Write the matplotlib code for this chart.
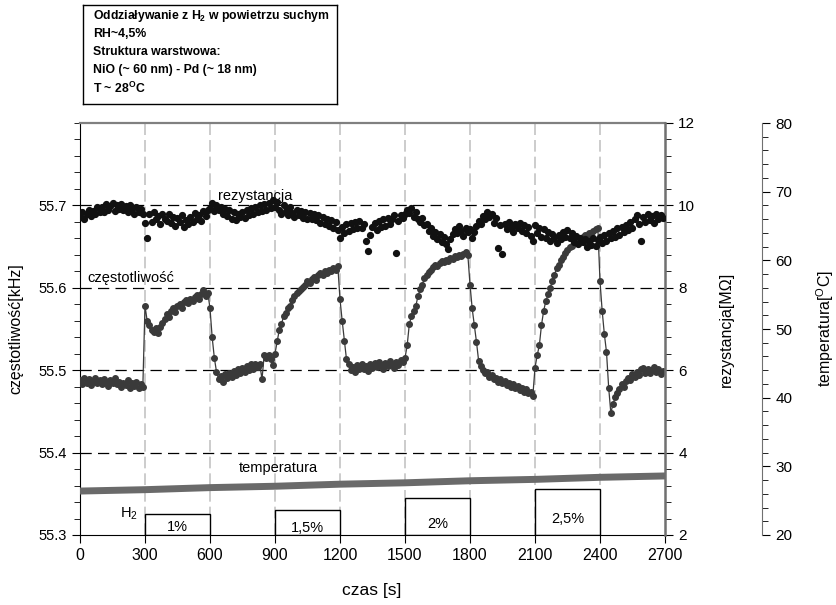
import numpy as np
import matplotlib
matplotlib.use('Agg')
import matplotlib.pyplot as plt
from matplotlib.ticker import MultipleLocator, FixedLocator, FormatStrFormatter

plt.rcParams['font.family'] = ['Liberation Sans', 'DejaVu Sans']
plt.rcParams['mathtext.fontset'] = 'custom'
plt.rcParams['mathtext.rm'] = 'Liberation Sans'
plt.rcParams['mathtext.bf'] = 'Liberation Sans:bold'

# czas probkowania co 10 s
czas = np.arange(0, 2700, 10)

# czestotliwosc [kHz] (segmenty po 300 s)
czestotliwosc = [
    55.488, 55.483, 55.490, 55.485, 55.489, 55.482, 55.487, 55.491, 55.484, 55.488,
    55.483, 55.489, 55.486, 55.481, 55.488, 55.484, 55.490, 55.483, 55.486, 55.480,
    55.485, 55.482, 55.488, 55.479, 55.484, 55.481, 55.486, 55.478, 55.483, 55.480,
    55.578, 55.560, 55.555, 55.549, 55.546, 55.551, 55.545, 55.553, 55.557, 55.562,
    55.568, 55.565, 55.572, 55.575, 55.571, 55.578, 55.580, 55.576, 55.583, 55.585,
    55.581, 55.587, 55.584, 55.589, 55.591, 55.586, 55.592, 55.597, 55.590, 55.594,
    55.575, 55.540, 55.515, 55.498, 55.489, 55.493, 55.486, 55.495, 55.490, 55.497,
    55.492, 55.499, 55.494, 55.501, 55.496, 55.503, 55.498, 55.505, 55.500, 55.507,
    55.502, 55.508, 55.504, 55.507, 55.489, 55.518, 55.515, 55.519, 55.514, 55.506,
    55.520, 55.535, 55.549, 55.556, 55.566, 55.570, 55.575, 55.578, 55.585, 55.590,
    55.594, 55.596, 55.599, 55.601, 55.604, 55.608, 55.606, 55.611, 55.613, 55.610,
    55.616, 55.618, 55.615, 55.620, 55.618, 55.622, 55.620, 55.624, 55.621, 55.626,
    55.586, 55.560, 55.536, 55.513, 55.507, 55.500, 55.504, 55.498, 55.506, 55.501,
    55.508, 55.502, 55.505, 55.499, 55.507, 55.503, 55.509, 55.504, 55.510, 55.506,
    55.502, 55.509, 55.505, 55.511, 55.507, 55.503, 55.510, 55.506, 55.512, 55.510,
    55.515, 55.530, 55.556, 55.566, 55.572, 55.578, 55.590, 55.598, 55.604, 55.612,
    55.616, 55.619, 55.622, 55.625, 55.628, 55.627, 55.630, 55.632, 55.631, 55.634,
    55.633, 55.636, 55.635, 55.638, 55.637, 55.640, 55.638, 55.641, 55.643, 55.640,
    55.604, 55.575, 55.555, 55.534, 55.511, 55.505, 55.500, 55.496, 55.498, 55.492,
    55.494, 55.489, 55.491, 55.486, 55.489, 55.484, 55.487, 55.482, 55.485, 55.480,
    55.483, 55.478, 55.481, 55.476, 55.479, 55.474, 55.477, 55.472, 55.474, 55.469,
    55.503, 55.518, 55.530, 55.555, 55.572, 55.584, 55.592, 55.600, 55.608, 55.616,
    55.624, 55.628, 55.634, 55.637, 55.642, 55.646, 55.650, 55.651, 55.655, 55.654,
    55.658, 55.660, 55.662, 55.664, 55.663, 55.667, 55.666, 55.669, 55.671, 55.673,
    55.608, 55.572, 55.544, 55.522, 55.479, 55.448, 55.459, 55.467, 55.472, 55.477,
    55.483, 55.480, 55.487, 55.490, 55.488, 55.495, 55.492, 55.498, 55.494, 55.501,
    55.503, 55.497, 55.502, 55.496, 55.500, 55.504, 55.498, 55.501, 55.495, 55.499,
]

# rezystancja [MOhm]
rezystancja = [
    9.72, 9.84, 9.66, 9.78, 9.90, 9.74, 9.86, 9.80, 9.95, 9.83,
    9.97, 9.85, 10.03, 9.88, 9.98, 10.05, 9.86, 10.00, 9.92, 10.04,
    9.88, 9.99, 9.84, 10.02, 9.93, 9.80, 9.96, 9.85, 9.92, 9.78,
    9.57, 9.21, 9.78, 9.60, 9.84, 9.66, 9.74, 9.55, 9.80, 9.68,
    9.62, 9.79, 9.58, 9.72, 9.50, 9.70, 9.59, 9.76, 9.48, 9.64,
    9.55, 9.73, 9.60, 9.82, 9.67, 9.77, 9.62, 9.86, 9.74, 9.90,
    9.94, 10.06, 9.86, 10.00, 9.90, 9.97, 9.78, 9.92, 9.74, 9.88,
    9.68, 9.84, 9.64, 9.80, 9.71, 9.85, 9.70, 9.90, 9.77, 9.93,
    9.80, 9.96, 9.84, 10.00, 9.86, 10.03, 9.88, 10.05, 9.93, 10.14,
    9.95, 10.08, 9.88, 9.80, 10.02, 9.86, 9.76, 9.96, 9.82, 9.72,
    9.90, 9.76, 9.86, 9.70, 9.84, 9.68, 9.81, 9.66, 9.78, 9.64,
    9.77, 9.58, 9.72, 9.55, 9.68, 9.50, 9.65, 9.46, 9.60, 9.40,
    9.21, 9.48, 9.33, 9.54, 9.38, 9.58, 9.42, 9.60, 9.45, 9.62,
    9.44, 9.56, 9.13, 8.89, 9.28, 9.47, 9.58, 9.40, 9.63, 9.48,
    9.66, 9.50, 9.70, 9.54, 9.68, 9.76, 8.85, 9.62, 9.76, 9.70,
    9.78, 9.90, 9.82, 9.94, 9.72, 9.84, 9.66, 9.60, 9.70, 9.52,
    9.56, 9.38, 9.44, 9.26, 9.36, 9.18, 9.30, 9.12, 9.24, 9.06,
    8.93, 9.18, 9.30, 9.42, 9.34, 9.50, 9.38, 9.26, 9.46, 9.36,
    9.42, 9.22, 9.36, 9.50, 9.62, 9.56, 9.74, 9.66, 9.84, 9.72,
    9.80, 9.58, 9.70, 8.97, 9.52, 8.81, 9.56, 9.42, 9.60, 9.46,
    9.36, 9.54, 9.44, 9.58, 9.38, 9.52, 9.34, 9.48, 9.26, 9.13,
    9.52, 9.32, 9.46, 9.24, 9.42, 9.20, 9.36, 9.14, 9.30, 9.22,
    9.08, 9.28, 9.18, 9.36, 9.24, 9.40, 9.20, 9.32, 9.12, 9.26,
    9.06, 9.22, 9.10, 9.18, 8.98, 9.14, 9.04, 9.20, 9.02, 9.16,
    9.24, 9.08, 9.28, 9.14, 9.34, 9.20, 9.38, 9.24, 9.44, 9.28,
    9.48, 9.36, 9.52, 9.40, 9.60, 9.46, 9.66, 9.76, 9.56, 9.13,
    9.72, 9.60, 9.78, 9.64, 9.74, 9.58, 9.80, 9.66, 9.76, 9.70,
]

# temperatura [C]
temp_czas = [0, 300, 600, 900, 1200, 1500, 1800, 2100, 2400, 2700]
temperatura = [26.4, 26.6, 26.9, 27.1, 27.4, 27.6, 27.9, 28.1, 28.4, 28.6]

# impulsy H2
h2_start = [300, 900, 1500, 2100]
h2_koniec = [600, 1200, 1800, 2400]
h2_gora = [55.325, 55.330, 55.345, 55.356]
h2_etykiety = ['1%', '1,5%', '2%', '2,5%']
h2_etykiety_y = [55.310, 55.309, 55.313, 55.320]

fig = plt.figure(figsize=(8.37, 6.05), dpi=100)
ax = fig.add_axes([80 / 837, 70 / 605, 585 / 837, 412 / 605])
ax.set_xlim(0, 2700)
ax.set_ylim(55.3, 55.8)

for x in range(300, 2700, 300):
    ax.axvline(x, color='#c4c4c4', lw=1.2, dashes=(7, 3), zorder=1)
for y in [55.4, 55.5, 55.6, 55.7]:
    ax.axhline(y, color='black', lw=0.9, dashes=(9, 5), zorder=1)

for x0, x1, top in zip(h2_start, h2_koniec, h2_gora):
    ax.bar(x0, top - 55.3, width=x1 - x0, bottom=55.3, align='edge',
           facecolor='white', edgecolor='black', lw=1.0, zorder=2)
for x0, x1, lab, yl in zip(h2_start, h2_koniec, h2_etykiety, h2_etykiety_y):
    ax.text((x0 + x1) / 2, yl, lab, ha='center', va='center', fontsize=10.5)
ax.text(268, 55.326, r'H$_2$', ha='right', va='center', fontsize=10.5)

ax.plot(czas, czestotliwosc, '-o', color='#3a3a3a', ms=4.0, lw=0.9, zorder=3)

ax.text(35, 55.603, 'częstotliwość', fontsize=10.5, va='bottom')
ax.text(636, 55.703, 'rezystancja', fontsize=10.5, va='bottom')
ax.text(917, 55.381, 'temperatura', fontsize=10.5, ha='center', va='center')

ax.xaxis.set_major_locator(MultipleLocator(300))
ax.yaxis.set_major_locator(FixedLocator([55.3, 55.4, 55.5, 55.6, 55.7]))
ax.yaxis.set_minor_locator(MultipleLocator(0.02))
ax.yaxis.set_major_formatter(FormatStrFormatter('%.1f'))
ax.tick_params(axis='y', which='major', direction='out', length=6, labelsize=10.5)
ax.tick_params(axis='x', which='major', direction='out', length=6, labelsize=11.5)
ax.tick_params(axis='y', which='minor', direction='out', length=4)
ax.spines['top'].set_color('#808080')
ax.spines['top'].set_linewidth(1.6)
ax.spines['right'].set_visible(False)
ax.set_xlabel('czas [s]', fontsize=12.5)
ax.xaxis.set_label_coords(0.499, -0.1335)
ax.xaxis.label.set_va('center')
ax.set_ylabel('częstotliwość[kHz]', fontsize=11.5)
ax.yaxis.set_label_coords(-0.109, 0.5)
ax.yaxis.label.set_va('center')

ax2 = ax.twinx()
ax2.set_ylim(2, 12)
ax2.plot(czas, rezystancja, 'o', color='#111111', ms=4.2, zorder=4)
ax2.yaxis.set_major_locator(MultipleLocator(2))
ax2.yaxis.set_minor_locator(MultipleLocator(0.4))
ax2.tick_params(axis='y', which='major', direction='out', length=6, labelsize=11)
ax2.tick_params(axis='y', which='minor', direction='out', length=4)
for s in ['top', 'left', 'bottom']:
    ax2.spines[s].set_visible(False)
ax2.spines['right'].set_color('#707070')
ax2.spines['right'].set_linewidth(1.8)
ax2.set_ylabel('rezystancja[MΩ]', fontsize=11.5)
ax2.yaxis.set_label_coords((726 - 80) / 585, 0.5)
ax2.yaxis.label.set_va('center')

ax3 = ax.twinx()
ax3.set_ylim(20, 80)
ax3.plot(temp_czas, temperatura, color='#6a6a6a', lw=5, solid_capstyle='butt', zorder=2)
ax3.spines['right'].set_position(('outward', 97 * 72 / 100))
ax3.spines['right'].set_color('#707070')
for s in ['top', 'left', 'bottom']:
    ax3.spines[s].set_visible(False)
ax3.yaxis.set_major_locator(MultipleLocator(10))
ax3.yaxis.set_minor_locator(MultipleLocator(2))
ax3.tick_params(axis='y', which='major', direction='out', length=6, labelsize=11)
ax3.tick_params(axis='y', which='minor', direction='out', length=4)
ax3.set_ylabel(r'temperatura[$^\mathrm{O}$C]', fontsize=11.5)
ax3.yaxis.set_label_coords((825 - 80) / 585, 0.5)
ax3.yaxis.label.set_va('center')

# ramka z opisem
box = fig.add_axes([83 / 837, (605 - 104) / 605, 254 / 837, 99 / 605])
box.set_xticks([])
box.set_yticks([])
for s in box.spines.values():
    s.set_linewidth(1.0)
linie = [
    r'Oddziaływanie z H$_\mathbf{2}$ w powietrzu suchym',
    'RH~4,5%',
    'Struktura warstwowa:',
    'NiO (~ 60 nm) - Pd (~ 18 nm)',
    r'T ~ 28$^\mathbf{O}$C',
]
for i, txt in enumerate(linie):
    fig.text(93 / 837, 1 - (16 + 18 * i) / 605, txt, fontsize=8.8, fontweight='bold', va='center')

fig.savefig('out.png', dpi=100)
